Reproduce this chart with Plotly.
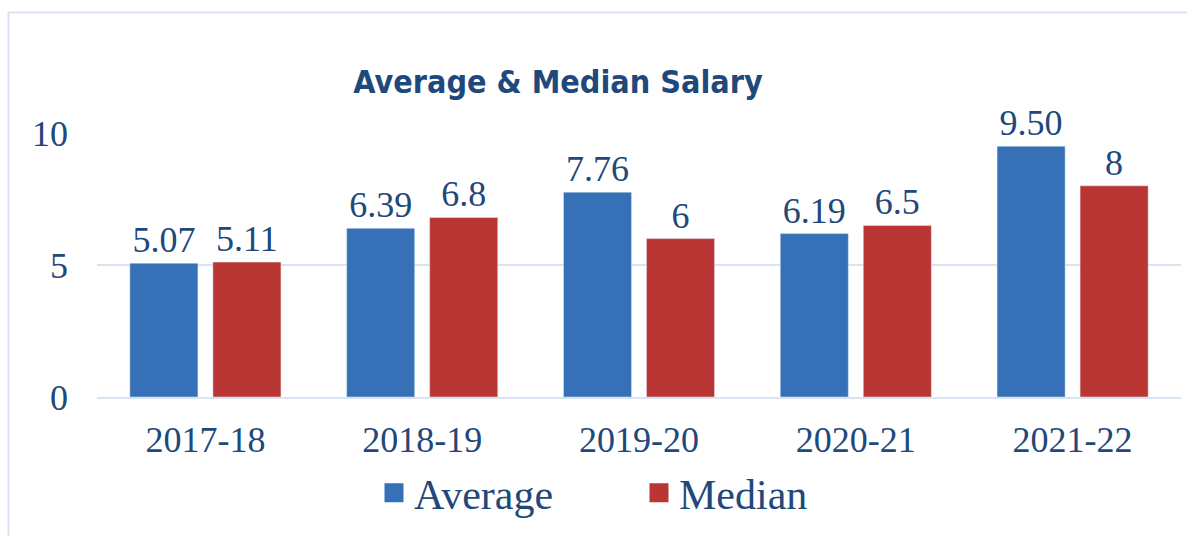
import plotly.graph_objects as go

categories = ["2017-18", "2018-19", "2019-20", "2020-21", "2021-22"]
average = [5.07, 6.39, 7.76, 6.19, 9.50]
median = [5.11, 6.8, 6, 6.5, 8]
y_ticks = [0, 5, 10]

TEXT = "#21487A"
BLUE = "#3671B7"
RED = "#B93634"
GRID = "#D9E4F2"
SERIF = "Liberation Serif, Times New Roman, serif"

W, H = 1187, 536
L, R, T, B = 97, 6, 133, 139

fig = go.Figure()
fig.add_trace(go.Bar(x=categories, y=average, name="Average", marker_color=BLUE,
                     texttemplate="%{y:.2f}", textposition="outside", cliponaxis=False,
                     textfont=dict(family=SERIF, size=36, color=TEXT), showlegend=False))
fig.add_trace(go.Bar(x=categories, y=median, name="Median", marker_color=RED,
                     texttemplate="%{y}", textposition="outside", cliponaxis=False,
                     textfont=dict(family=SERIF, size=36, color=TEXT), showlegend=False))
# legend entries
fig.add_trace(go.Scatter(x=[None], y=[None], mode="markers", name="Average",
                         marker=dict(symbol="square", size=22, color=BLUE,
                                     line=dict(width=3, color=BLUE))))
fig.add_trace(go.Scatter(x=[None], y=[None], mode="markers", name="Median",
                         marker=dict(symbol="square", size=22, color=RED,
                                     line=dict(width=3, color=RED))))

pw = W - L - R
ph = H - T - B
fig.add_shape(type="rect", xref="paper", yref="paper",
              x0=(8.5 - L) / pw, x1=1.2, y0=-1, y1=(H - B - 12.5) / ph,
              line=dict(color=GRID, width=2), fillcolor="rgba(0,0,0,0)", layer="below")

fig.update_layout(
    width=W, height=H,
    margin=dict(l=L, r=R, t=T, b=B, autoexpand=False),
    paper_bgcolor="white", plot_bgcolor="white",
    barmode="group", bargap=0.234, bargroupgap=0.18,
    title=dict(text="<b>Average & Median Salary</b>", xref="container", yref="container",
               x=558 / W, xanchor="center", y=1 - 82 / H, yanchor="middle",
               font=dict(family="Liberation Sans Narrow, Arial Narrow, DejaVu Sans Condensed, sans-serif",
                         size=32, color="#1F497D")),
    legend=dict(orientation="h", xref="container", yref="container",
                x=374 / W, xanchor="left", y=1 - 493 / H, yanchor="middle",
                font=dict(family=SERIF, size=42, color=TEXT),
                entrywidth=220, itemsizing="trace", bgcolor="rgba(0,0,0,0)"),
    xaxis=dict(showgrid=False, showline=True, linecolor=GRID, linewidth=2,
               tickfont=dict(family=SERIF, size=36, color=TEXT), ticks="",
               ticklabelstandoff=10, fixedrange=True),
    yaxis=dict(range=[0, 10], tickvals=y_ticks, showgrid=True, gridcolor=GRID, gridwidth=2,
               zeroline=False, showline=False, ticks="",
               tickfont=dict(family=SERIF, size=36, color=TEXT), ticklabelstandoff=28,
               fixedrange=True),
)

fig.write_html("out.html")
